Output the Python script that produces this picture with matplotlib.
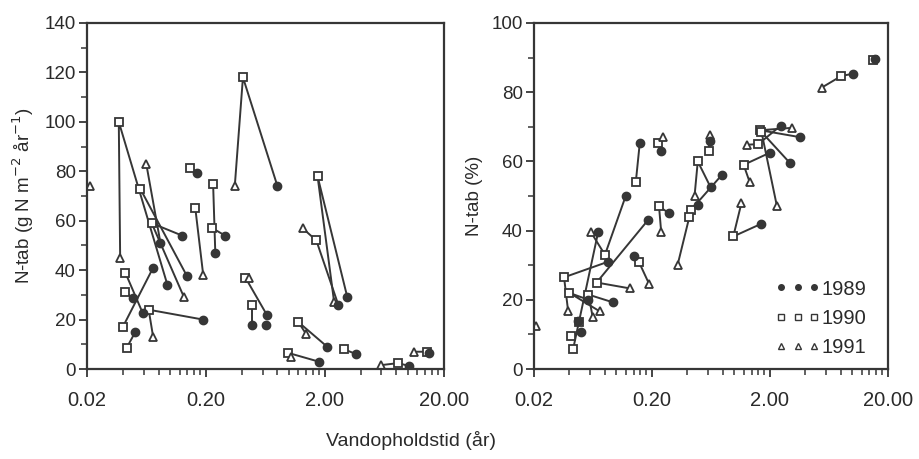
import numpy as np
import matplotlib
matplotlib.use('Agg')
import matplotlib.pyplot as plt
from matplotlib.ticker import FixedLocator, MultipleLocator, NullFormatter

plt.rcParams['font.family'] = ['Liberation Sans', 'DejaVu Sans']

nan = np.nan

# venstre panel: N-tab (g N m-2 år-1), en plads pr. sø, 1989 / 1990 / 1991
left_x89 = [nan, 0.095, 0.126, 0.139, 0.083, 0.17, nan, 0.24, 0.29, 0.80, 3.1, 2.6, 0.65, 0.49, 0.64,
            2.1, 3.7, 1.78, 10.3, 15.0, 0.072, 0.051, 0.19, 0.049, 0.059]
left_y89 = [nan, 34, 54, 37.5, 51, 79.5, nan, 47, 54, 74, 29, 26, 22, 18, 18,
            9, 6, 3, 1.2, 6.5, 41, 15, 20, 28.7, 22.5]
left_x90 = [nan, 0.037, 0.070, 0.056, nan, 0.148, 0.163, 0.23, 0.226, 0.41, 1.74, 1.7, 0.43, 0.49, nan,
            1.2, 2.9, 0.99, 8.3, 14.5, 0.040, 0.043, 0.066, 0.042, 0.042]
left_y90 = [nan, 100, 59, 73, nan, 81.5, 65, 75, 57, 118, 78, 52, 37, 26, nan,
            19, 8, 6.5, 2.4, 7, 17, 8.5, 24, 31, 39]
left_x91 = [0.021, 0.038, 0.131, nan, 0.063, nan, 0.19, nan, nan, 0.35, 2.4, 1.3, 0.46, nan, nan,
            1.4, nan, 1.05, 6.0, 11.2, nan, nan, 0.072, nan, nan]
left_y91 = [74, 45, 29, nan, 83, nan, 38, nan, nan, 74, 27, 57, 37, nan, nan,
            14, nan, 5, 1.6, 7, nan, nan, 13, nan, nan]

# højre panel: N-tab (%)
right_x89 = [nan, 0.158, 0.24, 0.62, 0.78, 0.63, 0.49, 0.28, 0.12, 0.07, 0.185, 0.14, 0.085, 0.058,
             0.093, 0.047, 0.05, 3.6, 2.47, 2.95, 2.0, 1.7, 10.1, 15.6]
right_y89 = [nan, 65.4, 63, 66, 56, 52.5, 47.5, 45, 50, 39.5, 43, 32.6, 31, 20,
             19.3, 13.8, 10.7, 67, 70.3, 59.6, 62.5, 42, 85.3, 89.6]
right_x90 = [nan, 0.146, 0.224, 0.61, 0.43, 0.49, 0.41, 0.23, 0.08, 0.043, 0.068, 0.155, 0.036, 0.04,
             0.058, 0.048, 0.041, 1.66, 1.6, 1.7, 1.2, 0.98, 8.1, 15.0]
right_y90 = [nan, 53.9, 65.4, 63, 46, 60, 44, 47, 33, 5.8, 25, 31, 26.5, 22,
             21.5, 13.5, 9.5, 69, 65, 68.5, 59, 38.3, 84.7, 89.3]
right_x91 = [0.021, nan, 0.25, 0.62, 0.33, 0.46, nan, 0.24, 0.061, nan, 0.13, 0.19, 0.039, 0.072,
             0.063, nan, nan, 3.1, 1.27, 2.3, 1.35, 1.15, 5.5, nan]
right_y91 = [12.5, nan, 67, 67.5, 30, 50, nan, 39.5, 39.5, nan, 23.3, 24.5, 16.7, 16.7,
             15, nan, nan, 69.7, 64.8, 47, 54, 48, 81.3, nan]

x_ticks = [0.02, 0.2, 2, 20]
x_labels = ['0.02', '0.20', '2.00', '20.00']
years = ['1989', '1990', '1991']

ink = '#363636'


def draw_panel(ax, x89, y89, x90, y90, x91, y91):
    for i in range(len(x89)):
        xs = [x89[i], x90[i], x91[i]]
        ys = [y89[i], y90[i], y91[i]]
        pts = [(a, b) for a, b in zip(xs, ys) if not np.isnan(a)]
        if len(pts) > 1:
            ax.plot([p[0] for p in pts], [p[1] for p in pts], color=ink, lw=1.4, zorder=1)
    ax.plot(x89, y89, 'o', ls='none', ms=6, color=ink, zorder=3)
    ax.plot(x90, y90, 's', ls='none', ms=5.5, mfc='white', mec=ink, mew=1.3, zorder=2)
    ax.plot(x91, y91, '^', ls='none', ms=5.5, mfc='white', mec=ink, mew=1.3, zorder=2)

    ax.set_xscale('log')
    ax.set_xlim(0.02, 20)
    ax.xaxis.set_major_locator(FixedLocator(x_ticks))
    ax.set_xticklabels(x_labels)
    minors = [0.02 * k * 10 ** n for n in range(3) for k in range(2, 10)]
    ax.xaxis.set_minor_locator(FixedLocator(minors))
    ax.xaxis.set_minor_formatter(NullFormatter())
    ax.tick_params(axis='x', which='major', direction='out', length=6, width=1.3, color=ink,
                   labelsize=14.5, labelcolor='#2a2a2a', pad=10)
    ax.tick_params(axis='x', which='minor', direction='out', length=4, width=1.1, color=ink)
    ax.tick_params(axis='y', which='major', direction='out', length=6, width=1.3, color=ink,
                   labelsize=13.5, labelcolor='#2a2a2a', pad=2)
    ax.tick_params(axis='y', which='minor', direction='out', length=4, width=1.1, color=ink)
    for s in ax.spines.values():
        s.set_color(ink)
        s.set_linewidth(1.6)


fig = plt.figure(figsize=(9.19, 4.59), dpi=100)
ax1 = fig.add_axes([0.0947, 0.196, 0.388, 0.754])
ax2 = fig.add_axes([0.581, 0.196, 0.385, 0.754])

draw_panel(ax1, left_x89, left_y89, left_x90, left_y90, left_x91, left_y91)
ax1.set_ylim(0, 140)
ax1.yaxis.set_major_locator(MultipleLocator(20))
ax1.yaxis.set_minor_locator(MultipleLocator(10))
ax1.set_ylabel('N-tab (g N m$^{-2}$ år$^{-1}$)', fontsize=13.5, color='#2a2a2a', labelpad=6)

draw_panel(ax2, right_x89, right_y89, right_x90, right_y90, right_x91, right_y91)
ax2.set_ylim(0, 100)
ax2.yaxis.set_major_locator(MultipleLocator(20))
ax2.yaxis.set_minor_locator(MultipleLocator(10))
ax2.set_ylabel('N-tab (%)', fontsize=13.5, color='#2a2a2a', labelpad=6)

h89, = ax2.plot([], [], 'o', ls='none', ms=4, color=ink)
h90, = ax2.plot([], [], 's', ls='none', ms=4, mfc='white', mec=ink, mew=1)
h91, = ax2.plot([], [], '^', ls='none', ms=4, mfc='white', mec=ink, mew=1)
ax2.legend([h89, h90, h91], years, numpoints=3, loc='lower right', bbox_to_anchor=(0.98, -0.005),
           frameon=False, fontsize=14.5, handlelength=2.2, handletextpad=0.1, labelspacing=0.5,
           borderpad=0.2, labelcolor='#2a2a2a')

fig.text(0.447, 0.04, 'Vandopholdstid (år)', ha='center', va='center', fontsize=14, color='#2a2a2a')

fig.savefig('out.png', dpi=100)
